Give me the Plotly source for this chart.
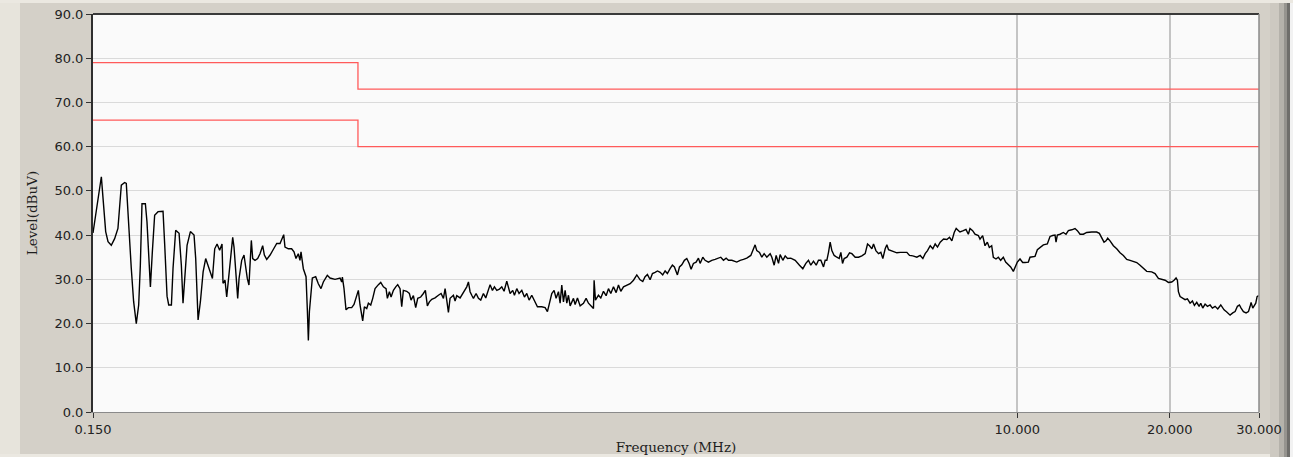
import plotly.graph_objects as go

# ---------------- data ----------------
freq_mhz = [
    0.1500, 0.1535, 0.1558, 0.1570, 0.1589, 0.1606, 0.1630, 0.1655, 0.1680, 0.1706,
    0.1732, 0.1745, 0.1766, 0.1785, 0.1804, 0.1826, 0.1846, 0.1860, 0.1874, 0.1903,
    0.1917, 0.1941, 0.1947, 0.1964, 0.1985, 0.2016, 0.2062, 0.2078, 0.2100, 0.2116,
    0.2142, 0.2158, 0.2184, 0.2218, 0.2241, 0.2258, 0.2276, 0.2300, 0.2335, 0.2374,
    0.2392, 0.2418, 0.2444, 0.2474, 0.2503, 0.2530, 0.2581, 0.2608, 0.2636, 0.2667,
    0.2696, 0.2708,
    0.2733, 0.2754, 0.2787, 0.2830, 0.2847, 0.2868, 0.2895, 0.2913, 0.2948, 0.2979,
    0.3006, 0.3024, 0.3047, 0.3061, 0.3080, 0.3099, 0.3132, 0.3170, 0.3204, 0.3243,
    0.3268, 0.3303, 0.3354, 0.3405, 0.3457, 0.3509, 0.3546, 0.3568, 0.3589, 0.3644,
    0.3699, 0.3739, 0.3773, 0.3813, 0.3842, 0.3860, 0.3901, 0.3949, 0.3973, 0.3991,
    0.4010, 0.4034, 0.4064, 0.4126, 0.4176, 0.4227, 0.4272, 0.4350,
    0.4404, 0.4505, 0.4609, 0.4644, 0.4658, 0.4693, 0.4736, 0.4787, 0.4860, 0.4911,
    0.4956, 0.5009, 0.5047, 0.5109, 0.5148, 0.5203, 0.5243, 0.5299, 0.5347, 0.5404,
    0.5487, 0.5545, 0.5613, 0.5681, 0.5715, 0.5768, 0.5812, 0.5874, 0.5937, 0.5990,
    0.6054, 0.6100, 0.6146, 0.6240, 0.6316, 0.6364, 0.6432, 0.6500, 0.6560, 0.6650,
    0.6731, 0.6792, 0.6854, 0.6917, 0.6992, 0.7098, 0.7207, 0.7295, 0.7373, 0.7429,
    0.7485, 0.7542, 0.7599, 0.7715, 0.7774, 0.7833, 0.7953, 0.8050, 0.8135, 0.8197,
    0.8260, 0.8322, 0.8386, 0.8450, 0.8552, 0.8644, 0.8735, 0.8842, 0.8936, 0.9046,
    0.9115, 0.9212, 0.9295, 0.9395, 0.9510, 0.9611, 0.9713, 0.9832, 0.9907, 0.9982,
    1.0103, 1.0180, 1.0289, 1.0397, 1.0526, 1.0654, 1.0768, 1.0883, 1.1015, 1.1132,
    1.1303, 1.1527, 1.1703, 1.1827, 1.1936, 1.2063, 1.2191, 1.2303, 1.2435, 1.2529,
    1.2624, 1.2721, 1.2818, 1.2915, 1.3013, 1.3112, 1.3313, 1.3414, 1.3557, 1.3722,
    1.3932, 1.4100, 1.4252, 1.4470, 1.4580, 1.4622, 1.4712, 1.4914, 1.5073, 1.5257,
    1.5443, 1.5608, 1.5775, 1.5967, 1.6161, 1.6334, 1.6507, 1.6710, 1.6965, 1.7224,
    1.7487, 1.7754,
    1.802, 1.824, 1.843, 1.863, 1.886, 1.906, 1.929, 1.950, 1.974, 1.997,
    2.019, 2.040, 2.065, 2.087, 2.106, 2.135, 2.155, 2.178, 2.204, 2.228,
    2.252, 2.272, 2.296, 2.324, 2.349, 2.367, 2.396, 2.421, 2.458, 2.496,
    2.534, 2.561, 2.600, 2.632, 2.664, 2.692, 2.734, 2.796, 2.839, 2.882,
    2.926, 2.980, 3.016, 3.039, 3.062, 3.100, 3.133, 3.166, 3.205, 3.254,
    3.279, 3.314, 3.344, 3.380, 3.405, 3.447, 3.484, 3.521, 3.574, 3.646,
    3.718, 3.775, 3.827, 3.873, 3.914, 3.962, 4.011, 4.053, 4.097, 4.147,
    4.178, 4.210, 4.242, 4.274, 4.307, 4.353, 4.406, 4.453, 4.487, 4.521,
    4.555, 4.611, 4.667, 4.717, 4.789, 4.862, 4.936, 5.011, 5.065, 5.111,
    5.166, 5.205, 5.261, 5.325, 5.381, 5.430, 5.488, 5.530, 5.572, 5.631,
    5.700, 5.787, 5.876, 5.965, 6.056, 6.130, 6.223, 6.338, 6.434, 6.513,
    6.582, 6.652, 6.734, 6.815, 6.888, 6.961, 7.047, 7.155, 7.264, 7.352,
    7.431, 7.510, 7.578, 7.659,
    7.710, 7.828, 7.923, 8.008, 8.069, 8.166, 8.254, 8.380, 8.444, 8.546,
    8.638, 8.730, 8.809, 8.904, 8.971, 9.080, 9.177, 9.275, 9.388, 9.488,
    9.604, 9.706, 9.825, 9.899, 10.005, 10.127, 10.250, 10.360, 10.518, 10.598,
    10.727, 10.842, 10.958, 11.091, 11.261, 11.466, 11.607, 11.748, 11.874, 11.928,
    11.999, 12.147, 12.332, 12.482, 12.616, 12.809, 13.004, 13.142, 13.303, 13.506,
    13.712, 14.028, 14.350, 14.524, 14.680, 14.836, 14.971, 15.085, 15.246, 15.479,
    15.715, 15.955, 16.199, 16.447, 16.698, 16.953, 17.212, 17.475, 17.741, 18.012,
    18.426, 18.708, 18.993, 19.283, 19.578, 19.877, 20.180, 20.395, 20.581, 20.705,
    20.801, 20.959, 21.213, 21.441, 21.670, 21.934, 22.169, 22.370, 22.609, 22.850,
    23.024, 23.233, 23.482, 23.732, 24.022, 24.275, 24.574, 24.872, 25.215, 25.596,
    25.912, 26.307, 26.627, 26.912, 27.200, 27.446, 27.656, 27.951, 28.291, 28.594,
    28.811, 28.941, 29.161, 29.563, 29.739, 29.950,
]

level_dbuv = [
    40.5, 48.3, 53.2, 48.3, 40.8, 38.5, 37.7, 39.2, 41.5, 51.3,
    51.9, 51.7, 40.0, 32.5, 25.0, 20.0, 24.2, 33.2, 47.1, 47.1,
    43.0, 33.2, 28.3, 36.1, 44.5, 45.3, 45.4, 37.7, 26.2, 24.2,
    24.2, 32.5, 41.1, 40.4, 33.2, 24.6, 31.0, 37.7, 40.8, 40.0,
    34.7, 20.8, 25.0, 31.7, 34.7, 33.2, 30.2, 36.9, 38.0, 36.6,
    38.0, 29.1,
    29.8, 26.0, 32.4, 39.5, 37.3, 31.7, 25.7, 30.2, 34.3, 35.5,
    31.7, 30.2, 28.7, 34.0, 38.8, 34.7, 34.3, 34.7, 35.8, 37.6,
    35.5, 34.5, 35.5, 36.8, 38.1, 38.1, 39.2, 40.1, 37.3, 36.9,
    36.9, 36.2, 34.7, 35.8, 34.3, 36.2, 32.4, 30.6, 23.0, 16.2,
    22.7, 27.2, 30.3, 30.6, 29.0, 27.9, 29.4, 30.9,
    30.3, 30.0, 30.3, 29.4, 30.5, 27.9, 23.1, 23.6, 23.6, 24.3,
    25.7, 27.5, 24.2, 20.6, 23.8, 23.4, 24.6, 24.2, 25.7, 27.9,
    28.8, 29.3, 28.3, 27.9, 25.7, 27.2, 26.0, 27.5, 28.3, 28.8,
    27.9, 23.8, 27.5, 27.3, 26.8, 25.3, 26.3, 23.6, 25.7, 26.0,
    26.8, 27.5, 24.0, 24.9, 25.5, 25.8, 26.4, 26.8, 25.7, 27.9,
    25.3, 22.5, 25.7, 26.4, 25.1, 26.3, 25.8, 26.8, 27.5, 28.3,
    29.4, 27.2, 26.4, 25.7, 26.8, 25.7, 25.3, 26.8, 25.8, 27.5,
    28.8, 27.5, 28.3, 27.5, 27.8, 28.3, 27.3, 29.6, 27.9, 26.8,
    27.5, 26.4, 27.9, 26.8, 27.5, 26.0, 26.8, 25.3, 26.4, 25.3,
    23.8, 23.8, 23.6, 22.7, 24.9, 26.8, 27.5, 25.7, 27.2, 24.6,
    28.7, 24.9, 27.5, 24.6, 26.4, 24.0, 25.7, 24.3, 25.8, 24.0,
    24.6, 25.7, 24.6, 23.8, 23.4, 29.8, 25.3, 26.4, 25.8, 27.3,
    26.3, 27.9, 26.8, 28.3, 27.0, 28.7, 27.3, 28.3, 28.7, 29.0,
    29.8, 31.0,
    29.9, 29.5, 30.6, 31.1, 29.9, 31.3, 31.6, 31.9, 31.6, 31.0,
    31.9, 31.3, 32.4, 33.2, 32.8, 31.0, 32.8, 33.3, 34.3, 34.7,
    33.6, 32.3, 33.6, 33.9, 34.8, 33.6, 35.0, 34.3, 33.9, 34.3,
    34.5, 34.7, 35.0, 34.3, 34.8, 34.3, 34.3, 33.9, 34.3, 34.5,
    34.8, 35.4, 36.9, 37.8, 36.5, 36.1, 35.0, 35.8, 35.0, 35.8,
    35.0, 33.2, 35.4, 33.6, 35.6, 34.3, 35.3, 34.7, 34.8, 34.3,
    33.2, 32.4, 33.6, 34.3, 33.2, 34.1, 33.2, 34.3, 34.3, 32.8,
    34.3, 34.3, 36.1, 38.4, 36.5, 35.4, 35.0, 34.7, 36.1, 33.6,
    34.7, 35.0, 36.0, 35.8, 35.0, 35.0, 35.3, 35.8, 38.0, 37.6,
    36.9, 38.0, 36.5, 35.8, 36.1, 34.7, 36.9, 37.8, 36.7, 36.5,
    36.3, 36.0, 36.1, 36.1, 36.1, 35.4, 35.3, 35.0, 35.4, 34.7,
    35.8, 36.5, 37.6, 36.9, 38.0, 37.3, 38.4, 39.1, 39.0, 39.5,
    38.7, 40.6, 41.5, 41.0,
    40.7, 41.0, 41.3, 40.2, 41.5, 41.0, 40.2, 39.9, 39.1, 39.9,
    37.6, 38.4, 37.2, 37.6, 35.0, 34.6, 35.0, 34.3, 35.0, 33.9,
    33.2, 32.8, 31.8, 32.8, 33.9, 34.6, 33.8, 33.8, 33.9, 35.0,
    35.2, 35.2, 36.7, 37.2, 37.8, 38.0, 39.7, 39.9, 40.0, 38.4,
    40.0, 40.2, 40.6, 40.2, 41.0, 41.2, 41.5, 41.0, 40.2, 40.2,
    40.6, 40.7, 40.7, 40.4, 39.3, 38.4, 38.7, 39.3, 38.7, 37.6,
    36.9, 36.0, 35.4, 34.5, 34.3, 34.1, 33.8, 33.2, 32.4, 31.8,
    31.7, 31.3, 30.2, 30.0, 29.8, 29.3, 29.4, 29.8, 30.3, 29.8,
    27.2, 26.1, 25.7, 25.4, 25.6, 24.6, 25.1, 24.1, 24.8, 23.9,
    24.6, 23.5, 24.4, 23.9, 24.2, 23.5, 23.9, 23.3, 24.2, 23.1,
    22.6, 21.9, 22.4, 22.7, 23.9, 24.2, 23.5, 22.7, 22.4, 22.7,
    23.9, 24.8, 23.5, 24.6, 26.1, 26.3,
]

# limit lines (class A: QP and AV)
limit_freq = [0.15, 0.5, 0.5, 30.0]
limit_qp = [79.0, 79.0, 73.0, 73.0]
limit_av = [66.0, 66.0, 60.0, 60.0]

x_tick_vals = [0.15, 10, 20, 30]
x_tick_text = ["0.150", "10.000", "20.000", "30.000"]
y_tick_vals = [0, 10, 20, 30, 40, 50, 60, 70, 80, 90]
y_tick_text = ["0.0", "10.0", "20.0", "30.0", "40.0", "50.0", "60.0", "70.0", "80.0", "90.0"]

# ---------------- figure ----------------
W, H = 1293, 457
L, R, T, B = 93, 34, 14, 45
pw, ph = W - L - R, H - T - B


def px(xpix):
    return (xpix - L) / pw


def py(ypix):
    return (H - B - ypix) / ph


fig = go.Figure()

fig.add_trace(go.Scatter(x=limit_freq, y=limit_qp, mode="lines",
                         line=dict(color="#ff5a5a", width=1.3), hoverinfo="skip"))
fig.add_trace(go.Scatter(x=limit_freq, y=limit_av, mode="lines",
                         line=dict(color="#ff5a5a", width=1.3), hoverinfo="skip"))
fig.add_trace(go.Scatter(x=freq_mhz, y=level_dbuv, mode="lines",
                         line=dict(color="#000000", width=1.4)))

shapes = []
# window bevel decorations (outside plot area)
shapes.append(dict(type="rect", xref="paper", yref="paper", x0=px(0), x1=px(20), y0=py(H), y1=py(0),
                   fillcolor="#e7e4dc", line=dict(width=0), layer="below"))
shapes.append(dict(type="rect", xref="paper", yref="paper", x0=px(0), x1=px(W), y0=py(3), y1=py(0),
                   fillcolor="#ebe8e1", line=dict(width=0), layer="below"))
shapes.append(dict(type="rect", xref="paper", yref="paper", x0=px(0), x1=px(W), y0=py(H), y1=py(454),
                   fillcolor="#ebe8e1", line=dict(width=0), layer="below"))
for (a, b, c) in [(1270, 1279, "#cdc9c1"), (1279, 1284, "#b5b2ab"), (1284, 1287, "#96948f"),
                  (1287, 1290, "#6f6e6b"), (1290, W, "#f2f2f2")]:
    shapes.append(dict(type="rect", xref="paper", yref="paper", x0=px(a), x1=px(b), y0=py(H), y1=py(3),
                       fillcolor=c, line=dict(width=0), layer="below"))
# plot frame
shapes.append(dict(type="line", xref="paper", yref="paper", x0=0, x1=1, y0=1, y1=1,
                   line=dict(color="#3a3a3a", width=2)))
shapes.append(dict(type="line", xref="paper", yref="paper", x0=1, x1=1, y0=0, y1=1,
                   line=dict(color="#8a8a8a", width=1.5)))

fig.update_layout(
    width=W, height=H,
    margin=dict(l=L, r=R, t=T, b=B, pad=0, autoexpand=False),
    paper_bgcolor="#d4d0c8",
    plot_bgcolor="#fafafa",
    showlegend=False,
    shapes=shapes,
    font=dict(family="DejaVu Sans", size=13, color="#2a2a2a"),
)

fig.update_xaxes(
    type="log",
    range=[-0.823909, 1.477121],
    automargin=False,
    tickvals=x_tick_vals, ticktext=x_tick_text,
    ticks="outside", ticklen=5, tickcolor="#333333", tickwidth=1,
    showgrid=True, gridcolor="#c4c4c4", gridwidth=1.5,
    showline=True, linecolor="#8a8a8a", linewidth=1,
    zeroline=False,
    tickfont=dict(family="DejaVu Sans", size=13, color="#222222"),
    title=dict(text="Frequency (MHz)", standoff=6,
               font=dict(family="DejaVu Serif", size=13.5, color="#1e1e1e")),
)
fig.update_yaxes(
    range=[0, 90],
    automargin=False,
    tickvals=y_tick_vals, ticktext=y_tick_text,
    ticks="outside", ticklen=5, tickcolor="#333333", tickwidth=1,
    showgrid=True, gridcolor="#dadada", gridwidth=1,
    showline=True, linecolor="#2e2e2e", linewidth=2,
    zeroline=False,
    tickfont=dict(family="DejaVu Sans", size=13, color="#222222"),
    title=dict(text="Level(dBuV)", standoff=14,
               font=dict(family="DejaVu Serif", size=13.5, color="#1e1e1e")),
)

fig.write_html(
    "out.html",
    config={"displayModeBar": False},
    post_script="document.body.style.margin='0px';document.body.style.overflow='hidden';",
)
